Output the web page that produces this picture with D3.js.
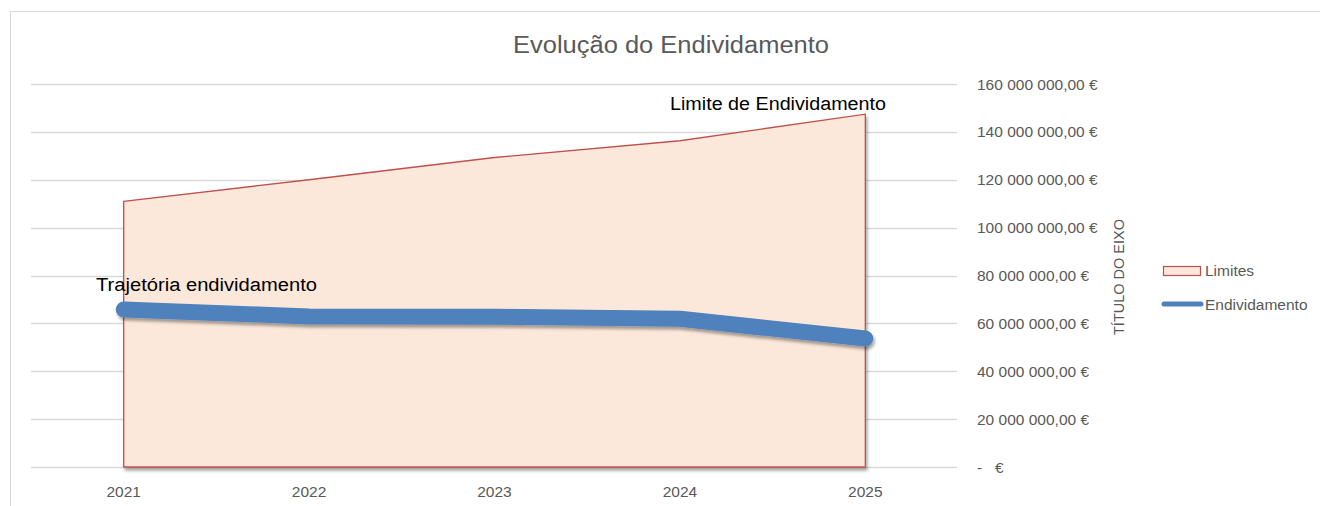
<!DOCTYPE html>
<html>
<head>
<meta charset="utf-8">
<script src="https://cdn.jsdelivr.net/npm/d3@7"></script>
<style>
  body { margin: 0; background: #fff; }
  svg { display: block; font-family: "Liberation Sans", Arial, sans-serif; }
</style>
</head>
<body>
<div id="viz"></div>
<script>
// data
let years = ["2021", "2022", "2023", "2024", "2025"];
let limites = [111000000, 120000000, 129300000, 136300000, 147400000];
let endividamento = [65800000, 62900000, 62800000, 61900000, 53700000];
let yTicks = [0, 20000000, 40000000, 60000000, 80000000, 100000000, 120000000, 140000000, 160000000];

let width = 1320;
let height = 506;
let grey = "#595959";

let svg = d3
  .select("#viz")
  .append("svg")
  .attr("width", width)
  .attr("height", height);

// shadow filter (user space so the round caps are not clipped)
let defs = svg.append("defs");
let shadow = defs.append("filter").attr("id", "shadow")
  .attr("filterUnits", "userSpaceOnUse")
  .attr("x", 0).attr("y", 0).attr("width", width).attr("height", height);
shadow.append("feDropShadow")
  .attr("dx", 1.5).attr("dy", 3).attr("stdDeviation", 1.8)
  .attr("flood-color", "#000").attr("flood-opacity", 0.35);

// chart border
svg.append("rect")
  .attr("x", 10.5).attr("y", 11.5)
  .attr("width", 1330).attr("height", 520)
  .attr("fill", "none")
  .attr("stroke", "#d9d9d9");

// scales
let x = d3.scaleBand().domain(years).range([31, 958]);
let xc = (d) => x(d) + x.bandwidth() / 2;
let y = d3.scaleLinear().domain([0, 160000000]).range([467, 84]);

// gridlines
svg.append("g")
  .selectAll("line")
  .data(yTicks)
  .join("line")
  .attr("x1", 31).attr("x2", 957)
  .attr("y1", (d) => Math.round(y(d)) + 0.5)
  .attr("y2", (d) => Math.round(y(d)) + 0.5)
  .attr("stroke", "#d9d9d9")
  .attr("stroke-width", 1.3);

// y tick labels (right side)
let euro = function (v) {
  if (v === 0) return "-   €";
  let s = d3.format(",.2f")(v).replace(/,/g, " ").replace(".", ",");
  return s + " €";
};
svg.append("g")
  .selectAll("text")
  .data(yTicks)
  .join("text")
  .attr("x", 977)
  .attr("y", (d) => y(d) + 5.5)
  .attr("fill", grey)
  .attr("font-size", 15.5)
  .style("white-space", "pre")
  .text(euro);

// x labels
svg.append("g")
  .selectAll("text")
  .data(years)
  .join("text")
  .attr("x", xc)
  .attr("y", 497)
  .attr("text-anchor", "middle")
  .attr("fill", grey)
  .attr("font-size", 15.5)
  .text((d) => d);

// Limites area
let area = d3.area()
  .x((d, i) => xc(years[i]))
  .y0(y(0))
  .y1((d) => y(d));

svg.append("path")
  .datum(limites)
  .attr("d", area)
  .attr("fill", "#fce8da")
  .attr("stroke", "#c0504d")
  .attr("stroke-width", 1.3)
  .attr("filter", "url(#shadow)");

// Endividamento line
let line = d3.line()
  .x((d, i) => xc(years[i]))
  .y((d) => y(d));

svg.append("path")
  .datum(endividamento)
  .attr("d", line)
  .attr("fill", "none")
  .attr("stroke", "#4f81bd")
  .attr("stroke-width", 16)
  .attr("stroke-linecap", "round")
  .attr("stroke-linejoin", "round")
  .attr("filter", "url(#shadow)");

// annotations
svg.append("text")
  .attr("x", 96).attr("y", 291)
  .attr("font-size", 18)
  .attr("fill", "#000")
  .attr("textLength", 221)
  .attr("lengthAdjust", "spacingAndGlyphs")
  .text("Trajetória endividamento");

svg.append("text")
  .attr("x", 670).attr("y", 110)
  .attr("font-size", 18)
  .attr("fill", "#000")
  .attr("textLength", 216)
  .attr("lengthAdjust", "spacingAndGlyphs")
  .text("Limite de Endividamento");

// title
svg.append("text")
  .attr("x", 671).attr("y", 53)
  .attr("text-anchor", "middle")
  .attr("font-size", 23)
  .attr("fill", grey)
  .attr("textLength", 316)
  .attr("lengthAdjust", "spacingAndGlyphs")
  .text("Evolução do Endividamento");

// axis title
svg.append("text")
  .attr("transform", "translate(1124,277) rotate(-90)")
  .attr("text-anchor", "middle")
  .attr("font-size", 14.5)
  .attr("fill", grey)
  .text("TÍTULO DO EIXO");

// legend
let legend = svg.append("g");
legend.append("rect")
  .attr("x", 1163.5).attr("y", 266.5)
  .attr("width", 37).attr("height", 9)
  .attr("fill", "#fce8da")
  .attr("stroke", "#c0504d")
  .attr("stroke-width", 1.2);
legend.append("text")
  .attr("x", 1205).attr("y", 276)
  .attr("font-size", 15.5)
  .attr("fill", grey)
  .text("Limites");
legend.append("line")
  .attr("x1", 1164).attr("x2", 1201)
  .attr("y1", 304).attr("y2", 304)
  .attr("stroke", "#4f81bd")
  .attr("stroke-width", 5)
  .attr("stroke-linecap", "round");
legend.append("text")
  .attr("x", 1205).attr("y", 309.5)
  .attr("font-size", 15.5)
  .attr("fill", grey)
  .text("Endividamento");
</script>
</body>
</html>
